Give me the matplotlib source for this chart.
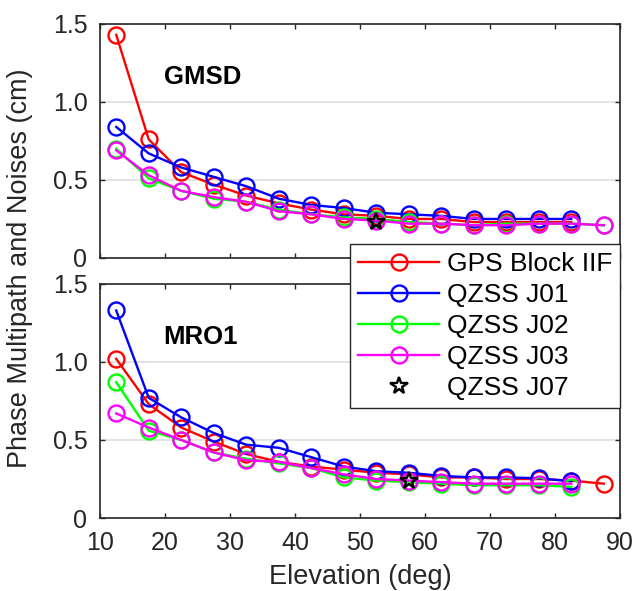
import numpy as np
import matplotlib
matplotlib.use('Agg')
import matplotlib.pyplot as plt

plt.rcParams['font.family'] = ['Liberation Sans', 'DejaVu Sans']
plt.rcParams['font.size'] = 18

# elevation bins (deg)
elev = [12.5, 17.5, 22.5, 27.5, 32.5, 37.5, 42.5, 47.5, 52.5, 57.5,
        62.5, 67.5, 72.5, 77.5, 82.5, 87.5]

# GMSD station (cm)
gmsd_gps = [1.43, 0.76, 0.55, 0.47, 0.40, 0.35, 0.31, 0.28, 0.27, 0.25,
            0.25, 0.23, 0.23, 0.23, 0.23]
gmsd_j01 = [0.84, 0.67, 0.58, 0.52, 0.46, 0.38, 0.34, 0.32, 0.29, 0.28,
            0.27, 0.25, 0.25, 0.25, 0.25]
gmsd_j02 = [0.70, 0.51, 0.43, 0.38, 0.36, 0.31, 0.28, 0.26, 0.25, 0.23,
            0.22, 0.21, 0.22, 0.22, 0.22, 0.21]
gmsd_j03 = [0.69, 0.53, 0.43, 0.39, 0.36, 0.30, 0.28, 0.25, 0.24, 0.22,
            0.22, 0.21, 0.21, 0.22, 0.22, 0.21]
gmsd_j07_elev = [52.5]
gmsd_j07 = [0.23]

# MRO1 station (cm)
mro1_gps = [1.02, 0.73, 0.58, 0.49, 0.41, 0.36, 0.33, 0.31, 0.29, 0.28,
            0.26, 0.26, 0.25, 0.25, 0.24, 0.22]
mro1_j01 = [1.33, 0.77, 0.645, 0.545, 0.47, 0.45, 0.39, 0.33, 0.30, 0.29,
            0.27, 0.26, 0.26, 0.255, 0.235]
mro1_j02 = [0.87, 0.56, 0.50, 0.42, 0.38, 0.35, 0.32, 0.26, 0.24, 0.23,
            0.22, 0.21, 0.21, 0.21, 0.20]
mro1_j03 = [0.67, 0.58, 0.50, 0.42, 0.37, 0.36, 0.32, 0.28, 0.25, 0.24,
            0.23, 0.22, 0.22, 0.22, 0.22]
mro1_j07_elev = [57.5]
mro1_j07 = [0.235]

labels = ['GPS Block IIF', 'QZSS J01', 'QZSS J02', 'QZSS J03', 'QZSS J07']
colors = ['#ff0000', '#0000ff', '#00ff00', '#ff00ff']
dark = '#262626'

fig = plt.figure(figsize=(6.36, 5.91), dpi=100)
ax1 = fig.add_axes([0.1572, 0.5635, 0.8176, 0.396])
ax2 = fig.add_axes([0.1572, 0.1235, 0.8176, 0.396])

panels = [
    (ax1, 'GMSD', [gmsd_gps, gmsd_j01, gmsd_j02, gmsd_j03], gmsd_j07_elev, gmsd_j07),
    (ax2, 'MRO1', [mro1_gps, mro1_j01, mro1_j02, mro1_j03], mro1_j07_elev, mro1_j07),
]

handles = []
for ax, name, series, sx, sy in panels:
    hs = []
    for vals, c, lab in zip(series, colors, labels):
        h, = ax.plot(elev[:len(vals)], vals, '-o', color=c, lw=1.7,
                     markersize=11.5, markerfacecolor='none', markeredgewidth=1.7,
                     label=lab)
        hs.append(h)
    h, = ax.plot(sx, sy, linestyle='none', marker='*', color='k', markersize=13,
                 markerfacecolor='none', markeredgewidth=1.7, label=labels[4])
    hs.append(h)
    handles = hs
    ax.text(19.8, 1.16, name, fontsize=18.5, fontweight='bold', va='center')
    ax.set_xlim(10, 90)
    ax.set_ylim(0, 1.5)
    ax.set_xticks(np.arange(10, 91, 10))
    ax.set_yticks([0, 0.5, 1.0, 1.5])
    ax.set_yticklabels(['0', '0.5', '1.0', '1.5'])
    ax.yaxis.grid(True, color='#dfdfdf', lw=1.2)
    ax.set_axisbelow(True)
    ax.tick_params(direction='in', top=True, right=True, length=3.5, width=1,
                   colors=dark, labelcolor=dark, labelsize=18)
    ax.tick_params(axis='y', pad=9)
    ax.tick_params(axis='x', pad=9)
    for sp in ax.spines.values():
        sp.set_linewidth(1.2)
        sp.set_color(dark)

ax1.tick_params(labelbottom=False)
ax2.set_xlabel('Elevation (deg)', color=dark, fontsize=19.5, labelpad=7)
fig.text(0.031, 0.5465, 'Phase Multipath and Noises (cm)', rotation=90,
         va='center', ha='center', color=dark, fontsize=19.5)

leg = fig.legend(handles=handles, loc='upper right',
                 bbox_to_anchor=(620 / 636, 1 - 244 / 591),
                 frameon=True, fancybox=False, edgecolor=dark,
                 framealpha=1, borderpad=0.3, labelspacing=0.27,
                 handlelength=3.05, handletextpad=0.3, borderaxespad=0,
                 fontsize=19)
leg.get_frame().set_linewidth(1.0)

fig.savefig('out.png', dpi=100)
